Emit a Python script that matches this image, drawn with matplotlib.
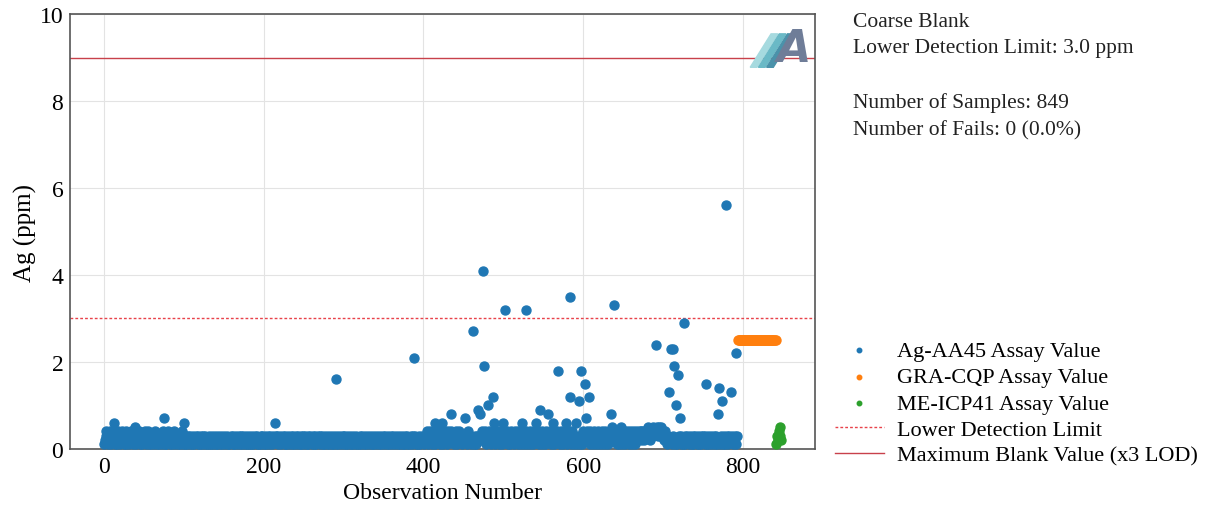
import numpy as np
import matplotlib
matplotlib.use("Agg")
import matplotlib.pyplot as plt
from matplotlib.patches import Polygon

plt.rcParams['font.family'] = ['Liberation Serif', 'DejaVu Serif']

# baseline Ag-AA45 values, tenths of a ppm, one digit per observation
base_rows = [
    "1234213241 3423121432 1324312413 2132431243 1432413212",
    "3213241321 2312431321 3212421312 4213213241 3212312431",
    "2132132132 1321232132 1231321321 2312132123 1213213212",
    "3212312123 2131232123 1321321231 2312132123 2132123132",
    "1231232132 1232132312 3212321312 3212313212 3123213123",
    "2132131232 1231321232 1323121321 3212312132 1231232123",
    "3121321231 2132123121 3213212312 3212312132 1232132123",
    "2132132123 1232123213 2123121321 3212321312 3121321232",
    "2132431243 2134213242 3142312431 2432143213 2413243213",
    "3243214321 3241321342 3124132413 2142312432 1432143213",
    "2413241321 4231243214 3213421342 1324132143 2132413241",
    "3214321342 1324132413 2142312432 1342314231 2413241321",
    "4231243214 3214321342 1324132143 2132413241 3214213241",
    "3241324132 4132413243 3424342434 3534243534 4354353543",
    "3243213242 3123213212 3213212312 3212321312 3212312312",
    "3213213212 3212312312 3213212312 3213212312 3213",
]
# Ag-AA45 values above the baseline band
out_idx = [13, 39, 51, 75, 100, 214, 291, 388, 414, 423, 434, 452, 462, 468,
           471, 474, 476, 481, 487, 488, 500, 502, 523, 529, 541, 546, 556,
           562, 568, 578, 583, 584, 591, 595, 597, 602, 603, 607, 635, 636,
           639, 648, 691, 708, 710, 712, 714, 716, 719, 721, 726, 754, 769,
           770, 774, 779, 785, 791]
out_val = [0.6, 0.5, 0.4, 0.7, 0.6, 0.6, 1.6, 2.1, 0.6, 0.6, 0.8, 0.7, 2.7, 0.9,
           0.8, 4.1, 1.9, 1.0, 1.2, 0.6, 0.6, 3.2, 0.6, 3.2, 0.6, 0.9, 0.8,
           0.6, 1.8, 0.6, 3.5, 1.2, 0.6, 1.1, 1.8, 1.5, 0.7, 1.2, 0.8, 0.5,
           3.3, 0.5, 2.4, 1.3, 2.3, 2.3, 1.9, 1.0, 1.7, 0.7, 2.9, 1.5, 0.8,
           1.4, 1.1, 5.6, 1.3, 2.2]
# GRA-CQP and ME-ICP41 values
gra_val = [2.5] * 48
icp_val = [0.1, 0.3, 0.2, 0.4, 0.5, 0.3, 0.2]

lod = 3.0
max_blank = 9.0

digits = "".join(base_rows).replace(" ", "")
ag_val = np.array([int(c) / 10 for c in digits])
ag_val[out_idx] = out_val
ag_x = np.arange(len(ag_val))
gra_x = np.arange(len(ag_val), len(ag_val) + len(gra_val))
icp_x = np.arange(gra_x[-1] + 1, gra_x[-1] + 1 + len(icp_val))

fig = plt.figure(figsize=(12.11, 5.10), dpi=100)
ax = fig.add_axes([0.058, 0.118, 0.615, 0.852])

ax.grid(True, color='#e3e3e3', lw=0.8, zorder=0)
ax.scatter(ag_x, ag_val, s=42, color='#1f77b4', label='Ag-AA45 Assay Value', zorder=3)
ax.scatter(gra_x, gra_val, s=42, color='#ff7f0e', label='GRA-CQP Assay Value', zorder=3)
ax.scatter(icp_x, icp_val, s=42, color='#2ca02c', label='ME-ICP41 Assay Value', zorder=3)
ax.axhline(lod, color='#e8424a', ls=(0, (2, 1.5)), lw=1.0, label='Lower Detection Limit', zorder=2)
ax.axhline(max_blank, color='#c8414b', ls='-', lw=1.0, label='Maximum Blank Value (x3 LOD)', zorder=2)

ax.set_ylim(0, 10)
ax.set_xticks([0, 200, 400, 600, 800])
ax.set_yticks([0, 2, 4, 6, 8, 10])
ax.tick_params(length=0, labelsize=17, pad=5)
for s in ax.spines.values():
    s.set_color('#555555')
    s.set_linewidth(1.2)
ax.set_xlabel('Observation Number', fontsize=17, labelpad=4)
ax.set_ylabel('Ag (ppm)', fontsize=18, labelpad=2)

# logo: three slanted stripes and an "A"
for k, c in enumerate(['#a6dadf', '#6ab9c6', '#4a92aa']):
    x0 = 0.913 + 0.011 * k
    ax.add_patch(Polygon([[x0, 0.878], [x0 + 0.009, 0.878], [x0 + 0.037, 0.955], [x0 + 0.028, 0.955]],
                         closed=True, transform=ax.transAxes, color=c, zorder=4))
ax.text(0.972, 0.872, 'A', transform=ax.transAxes, fontsize=32, fontweight='bold',
        style='italic', color='#6f7d98', ha='center', va='bottom', family='DejaVu Sans', zorder=5)

fig.text(0.704, 0.975,
         'Coarse Blank\nLower Detection Limit: 3.0 ppm\n\nNumber of Samples: 849\nNumber of Fails: 0 (0.0%)',
         fontsize=15.5, va='top', ha='left', linespacing=1.55, color='#222222')

ax.legend(loc='lower left', bbox_to_anchor=(1.0, -0.085), frameon=False, fontsize=16,
          markerscale=0.5, handlelength=2.2, handletextpad=0.6, labelspacing=0.25)

fig.savefig('out.png', dpi=100)
